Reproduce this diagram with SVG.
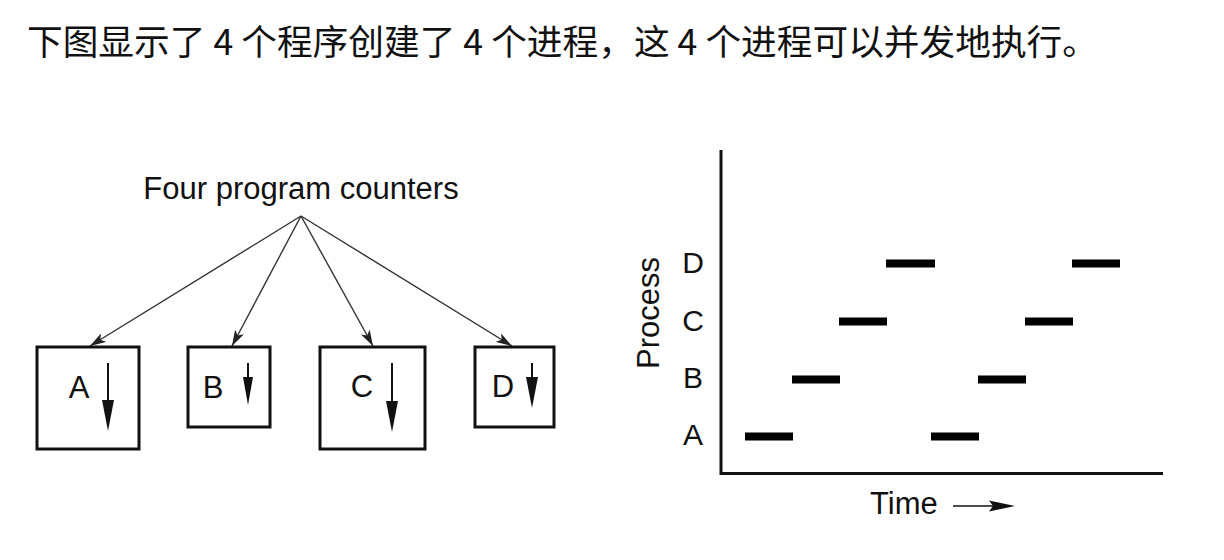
<svg xmlns="http://www.w3.org/2000/svg" width="1224" height="560" viewBox="0 0 1224 560">
<style>
.t{font-family:"Liberation Sans",Arial,sans-serif;fill:#111}
.cjk{font-family:"Noto Sans CJK SC",sans-serif;fill:#111}
.box{fill:none;stroke:#111;stroke-width:3}
.conn{stroke:#333;stroke-width:1.4;fill:none}
.bar{fill:#000}
.axis{stroke:#111;stroke-width:3;fill:none}
</style>
<defs>
<marker id="ah" viewBox="0 0 16 10" refX="16" refY="5" markerWidth="16" markerHeight="10" markerUnits="userSpaceOnUse" orient="auto">
<path d="M0,0 L16,5 L0,10 L4,5 Z" fill="#222"/>
</marker>
</defs>
<rect width="1224" height="560" fill="#fff"/>
<text class="cjk" x="27" y="55" font-size="35.7">下图显示了 4 个程序创建了 4 个进程，这 4 个进程可以并发地执行。</text>

<g id="label-counters"><text class="t" x="301" y="199" font-size="31" text-anchor="middle">Four program counters</text></g>

<g id="connectors">
<line class="conn" x1="301" y1="216" x2="90" y2="346" marker-end="url(#ah)"/>
<line class="conn" x1="301" y1="216" x2="232" y2="346" marker-end="url(#ah)"/>
<line class="conn" x1="301" y1="216" x2="373" y2="346" marker-end="url(#ah)"/>
<line class="conn" x1="301" y1="216" x2="512" y2="346" marker-end="url(#ah)"/>
</g>

<g id="node-A">
<rect class="box" x="37" y="347" width="102" height="102"/>
<text class="t" x="79" y="398" font-size="31" text-anchor="middle">A</text>
<line x1="108" y1="363" x2="108" y2="405" stroke="#111" stroke-width="2"/>
<polygon points="102,400 114,400 108,431" fill="#111"/>
</g>
<g id="node-B">
<rect class="box" x="188" y="347" width="82" height="80"/>
<text class="t" x="213" y="398" font-size="31" text-anchor="middle">B</text>
<line x1="248" y1="363" x2="248" y2="380" stroke="#111" stroke-width="2"/>
<polygon points="243,377 253,377 248,405" fill="#111"/>
</g>
<g id="node-C">
<rect class="box" x="320" y="347" width="105" height="102"/>
<text class="t" x="362" y="397" font-size="31" text-anchor="middle">C</text>
<line x1="392" y1="363" x2="392" y2="405" stroke="#111" stroke-width="2"/>
<polygon points="386,401 398,401 392,432" fill="#111"/>
</g>
<g id="node-D">
<rect class="box" x="475" y="347" width="79" height="80"/>
<text class="t" x="503" y="397" font-size="31" text-anchor="middle">D</text>
<line x1="532" y1="363" x2="532" y2="380" stroke="#111" stroke-width="2"/>
<polygon points="526,377 538,377 532,408" fill="#111"/>
</g>

<g id="chart">
<path class="axis" d="M721,150 V473.5 H1163"/>
<text class="t" x="659" y="313" font-size="31" text-anchor="middle" transform="rotate(-90 659 313)">Process</text>
<text class="t" x="693" y="273" font-size="30" text-anchor="middle">D</text>
<text class="t" x="693" y="331" font-size="30" text-anchor="middle">C</text>
<text class="t" x="693" y="388" font-size="30" text-anchor="middle">B</text>
<text class="t" x="693" y="445" font-size="30" text-anchor="middle">A</text>
<rect class="bar" x="745" y="432.5" width="48" height="8"/>
<rect class="bar" x="931" y="432.5" width="48" height="8"/>
<rect class="bar" x="792" y="375.5" width="48" height="8"/>
<rect class="bar" x="978" y="375.5" width="48" height="8"/>
<rect class="bar" x="839" y="317.5" width="48" height="8"/>
<rect class="bar" x="1025" y="317.5" width="48" height="8"/>
<rect class="bar" x="886" y="259.5" width="49" height="8"/>
<rect class="bar" x="1072" y="259.5" width="48" height="8"/>
<text class="t" x="870" y="514" font-size="31">Time</text>
<line x1="953" y1="506" x2="995" y2="506" stroke="#111" stroke-width="1.6"/>
<polygon points="989,500.5 1015,506 989,511.5 993,506" fill="#111"/>
</g>
</svg>
